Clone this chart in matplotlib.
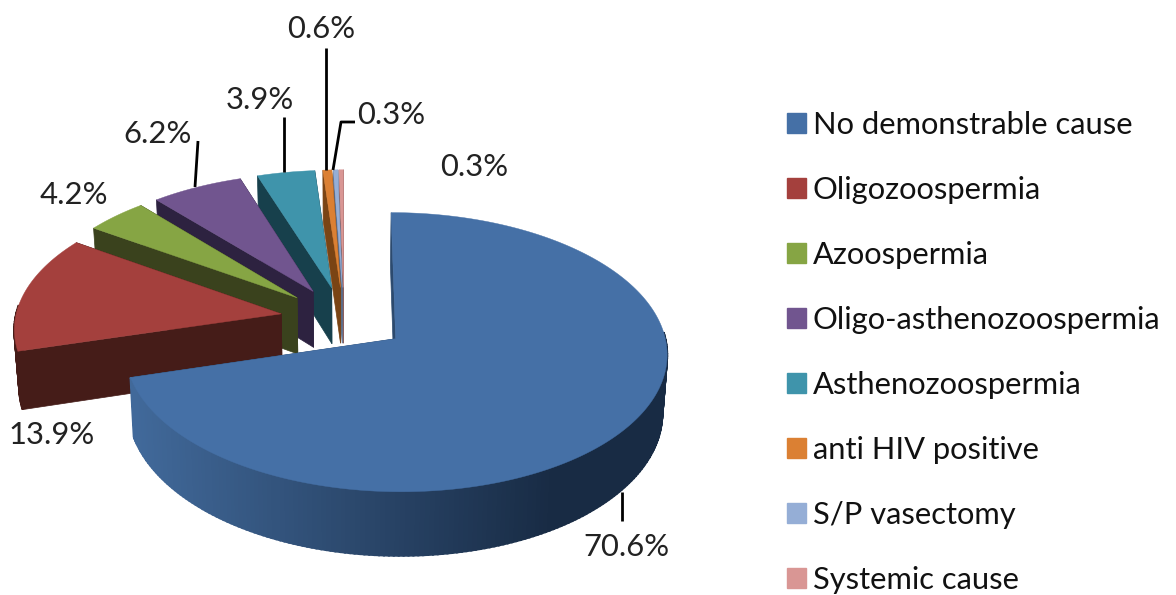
import numpy as np
import matplotlib.pyplot as plt
from matplotlib.colors import to_rgb
from matplotlib.patches import Patch

plt.rcParams['font.family'] = ['Lato', 'DejaVu Sans']

# Data
causes = ['No demonstrable cause', 'Oligozoospermia', 'Azoospermia', 'Oligo-asthenozoospermia',
          'Asthenozoospermia', 'anti HIV positive', 'S/P vasectomy', 'Systemic cause']
percent = [70.6, 13.9, 4.2, 6.2, 3.9, 0.6, 0.3, 0.3]

# Colours, top face and side face
top_colors = ['#4570a6', '#a4403d', '#86a544', '#71558f', '#3f94ab', '#db8033', '#95aed6', '#d99694']
side_colors = ['#2c4a6e', '#451c18', '#3a421d', '#2d2240', '#17404c', '#7a4414', '#5b6c88', '#8a5f5e']
rim_left = '#41699a'
rim_right = '#182b44'

# Label centres in pixels, then leader lines
label_pos = [(626, 547), (52, 435), (74, 195), (158, 134), (260, 100), (321, 29), (391, 115), (474, 167)]
leaders = [[(622, 492), (622, 521)], [(198, 141), (195, 187)], [(284, 117), (284, 172)],
           [(326, 48), (326, 170)], [(355, 122), (341, 122), (333, 170)]]

# Projection of the tilted pie
CX, CY = 344, 319
RX, RY = 266, 134.5
PERSP = 0.095
DEPTH = 57
EXPLODE = 0.24


def project(u, v, low=False):
    s = 1 / (1 + PERSP * v)
    if low:
        return CX + RX * u * s * 0.985, CY - RY * v * s + DEPTH * s
    return CX + RX * u * s, CY - RY * v * s


fig = plt.figure(figsize=(11.76, 5.95), dpi=100)
ax = fig.add_axes([0, 0, 1, 1])
ax.set_xlim(0, 1176)
ax.set_ylim(595, 0)
ax.axis('off')

edges = np.cumsum([0] + percent) / 100 * 2 * np.pi

# back wedges first, big one last
for i in range(len(percent) - 1, -1, -1):
    a0, a1 = edges[i], edges[i + 1]
    mid = (a0 + a1) / 2
    u0, v0 = EXPLODE * np.sin(mid), EXPLODE * np.cos(mid)
    t = np.linspace(a0, a1, max(int((a1 - a0) * 60), 6))
    u = u0 + np.sin(t)
    v = v0 + np.cos(t)

    # flat cut faces
    for a in (a1, a0):
        ue, ve = u0 + np.sin(a), v0 + np.cos(a)
        xt, yt = project(np.array([u0, ue]), np.array([v0, ve]))
        xb, yb = project(np.array([ue, u0]), np.array([ve, v0]), low=True)
        ax.fill(np.r_[xt, xb], np.r_[yt, yb], color=side_colors[i], lw=0.5, zorder=i * -3)

    # outer rim, shaded along x for the big wedge
    for j in range(len(t) - 1):
        if np.cos(t[j]) > 0.05:
            continue
        xt, yt = project(u[j:j + 2], v[j:j + 2])
        xb, yb = project(u[j:j + 2][::-1], v[j:j + 2][::-1], low=True)
        col = side_colors[i]
        if i == 0:
            f = np.clip((xt[0] - 135) / 420, 0, 1)
            col = tuple((1 - f) * np.array(to_rgb(rim_left)) + f * np.array(to_rgb(rim_right)))
        ax.fill(np.r_[xt, xb], np.r_[yt, yb], color=col, lw=1.5, zorder=i * -3 + 1)

    # top face
    xt, yt = project(np.r_[u0, u], np.r_[v0, v])
    ax.fill(xt, yt, color=top_colors[i], lw=0.3, zorder=i * -3 + 2)

for pts in leaders:
    ax.plot(*zip(*pts), color='black', lw=2, zorder=5, solid_capstyle='butt')

for val, (x, y) in zip(percent, label_pos):
    ax.text(x, y, f'{val:.1f}%', ha='center', va='center', fontsize=22.3, color='#222222', zorder=6)

handles = [Patch(color=c, label=n) for c, n in zip(top_colors, causes)]
ax.legend(handles=handles, loc='upper left', bbox_to_anchor=(787, 111), bbox_transform=ax.transData,
          frameon=False, fontsize=22.2, labelcolor='#111111', labelspacing=1.2,
          handlelength=0.6, handleheight=0.6, handletextpad=0.24, borderpad=0, borderaxespad=0)

fig.savefig('out.png', dpi=100)
